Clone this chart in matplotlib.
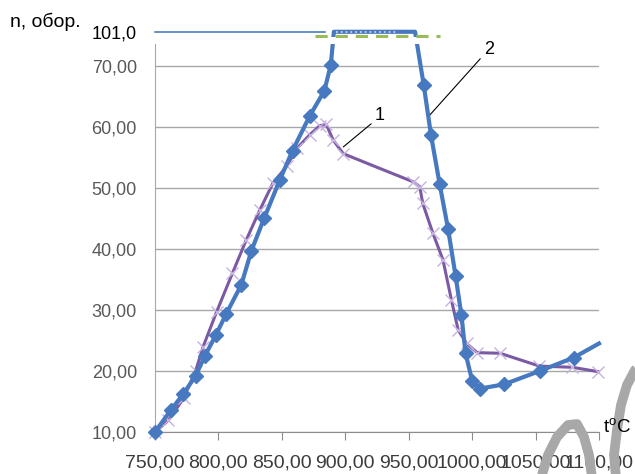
import numpy as np
import matplotlib
matplotlib.use("Agg")
import matplotlib.pyplot as plt

plt.rcParams['font.family'] = ['Liberation Sans', 'DejaVu Sans']
plt.rcParams['mathtext.fontset'] = 'custom'
plt.rcParams['mathtext.rm'] = 'Liberation Sans'

# curve 1 (purple, x markers)
t1 = [750, 760.5, 772.5, 782, 788, 798.6, 811, 822, 832.7, 843, 853.7, 862, 872, 880, 885,
      890.5, 898.4, 927, 953.4, 958.7, 961, 969, 977, 983.7, 989, 995.6, 1004, 1022, 1053,
      1079, 1099]
n1 = [10.0, 11.9, 15.5, 20.0, 24.0, 29.7, 36.0, 41.5, 46.4, 50.8, 53.5, 56.5, 58.7, 60.2, 60.4,
      57.8, 55.6, 53.2, 51.0, 50.2, 47.5, 42.6, 38.2, 31.6, 26.7, 24.5, 23.0, 22.9, 20.8,
      20.6, 19.9]
mark1 = [i for i in range(len(t1)) if t1[i] != 927]

# curve 2 (blue, diamonds), plateau at 101 above the axis break
t2 = [750, 762.5, 772.2, 782, 789.4, 798, 806, 818, 826, 836, 848.4, 858.4, 872, 883.5, 888.6,
      891, 955, 961.8, 967.6, 974.4, 981, 987, 991.5, 994.8, 1000, 1005.8, 1025, 1053.4,
      1080.2, 1100]
n2 = [10.0, 13.6, 16.2, 19.2, 22.5, 25.9, 29.3, 34.1, 39.7, 45.0, 51.3, 56.1, 61.8, 65.9, 70.9,
      101, 101, 66.9, 58.6, 50.6, 43.3, 35.5, 29.2, 22.9, 18.4, 17.1, 17.8, 20.0,
      22.2, 24.5]
mark2 = [i for i in range(len(t2)) if n2[i] != 101 and t2[i] != 1100]

x_ticks = [750, 800, 850, 900, 950, 1000, 1050, 1100]
y_ticks = [10, 20, 30, 40, 50, 60, 70, 101]
x_labels = ['750,00', '800,00', '850,00', '900,00', '950,00', '1000,00', '1050,00', '1100,00']
y_labels = ['10,00', '20,00', '30,00', '40,00', '50,00', '60,00', '70,00', '101,0']

# broken y axis: everything above 70 is squeezed
BRK = 70
K = 5.57 / 31.0
def fwd(y):
    y = np.asarray(y, dtype=float)
    return np.where(y <= BRK, y, BRK + (y - BRK) * K)
def inv(v):
    v = np.asarray(v, dtype=float)
    return np.where(v <= BRK, v, BRK + (v - BRK) / K)

fig = plt.figure(figsize=(6.35, 4.74), dpi=100)
ax = fig.add_axes([155/635, 42/474, 444/635, 417/474])
ax.set_yscale('function', functions=(fwd, inv))
ax.set_xlim(750, 1100)
ax.set_ylim(10, 116.3)

blue = '#4679c0'
purple = '#7b5aa3'

ax.hlines(y_ticks[:-1], 750, 1100, color='#a8a8a8', lw=1, zorder=1)
ax.plot([750, 884], [101, 101], color='#4a7ebb', lw=1.2, zorder=2, clip_on=False)

ax.plot(t2, n2, color=blue, lw=3, marker='D', ms=7, markevery=mark2,
        mfc=blue, mec=blue, zorder=4, clip_on=False)
ax.plot([893, 940], [101, 101], color='#d0d0d0', lw=1.3, ls=':', zorder=5)
ax.plot(t1, n1, color=purple, lw=2.2, marker='x', ms=8, mew=1, markevery=mark1,
        mec='#c6b3e0', zorder=3, clip_on=False)

# gap of the break
ax.fill_between([878, 975], 90, 96.3, color='white', zorder=6, lw=0)
ax.plot([876, 975], [97.2, 97.2], color='#9bbb59', lw=2.2, dashes=(4, 2.6), zorder=7)

ax.set_xticks(x_ticks)
ax.set_xticklabels(x_labels)
ax.set_yticks(y_ticks)
ax.set_yticklabels(y_labels)
ax.tick_params(axis='x', direction='out', length=6, color='#8c8c8c', pad=10,
               labelsize=14, labelcolor='#3c3c3c')
ax.tick_params(axis='y', length=0, pad=13, labelsize=13, labelcolor='#595959')
ax.get_yticklabels()[-1].set_color('black')
ax.yaxis.set_minor_locator(matplotlib.ticker.NullLocator())

for s in ['top', 'right']:
    ax.spines[s].set_visible(False)
ax.spines['left'].set_bounds(10, 90)
ax.spines['left'].set_color('#a8a8a8')
ax.spines['bottom'].set_color('#8c8c8c')

ax.annotate('1', xy=(898.4, 56.7), xycoords='data', xytext=(375, 474-124),
            textcoords='figure pixels', ha='left', va='bottom', fontsize=13,
            arrowprops=dict(arrowstyle='-', color='black', lw=0.8, relpos=(0, 0.2),
                            shrinkA=1, shrinkB=0))
ax.annotate('2', xy=(965.2, 61.6), xycoords='data', xytext=(484, 474-58),
            textcoords='figure pixels', ha='left', va='bottom', fontsize=13,
            arrowprops=dict(arrowstyle='-', color='black', lw=0.8, relpos=(0, 0.2),
                            shrinkA=1, shrinkB=0))

fig.text(10/635, 1 - 22/474, 'n, обор.', fontsize=14, ha='left', va='center')
fig.text(603/635, 1 - 428/474, r't$^{\mathrm{o}}$C', fontsize=13.5, ha='left', va='center',
         zorder=20)

# grey watermark strokes over the corner
ov = fig.add_axes([0, 0, 1, 1], zorder=10)
ov.set_xlim(0, 635)
ov.set_ylim(474, 0)
ov.axis('off')
ov.patch.set_alpha(0)
ov.plot([541, 548, 557, 568, 577, 584, 589, 592], [478, 455, 437, 425, 424, 437, 455, 478],
        color='#a8a8a8', lw=7, solid_capstyle='butt', solid_joinstyle='round')
ov.plot([616, 614, 617, 621, 627, 635, 645], [478, 455, 430, 405, 385, 370, 362],
        color='#a8a8a8', lw=7, solid_capstyle='butt', solid_joinstyle='round')

fig.savefig('out.png', dpi=100)
